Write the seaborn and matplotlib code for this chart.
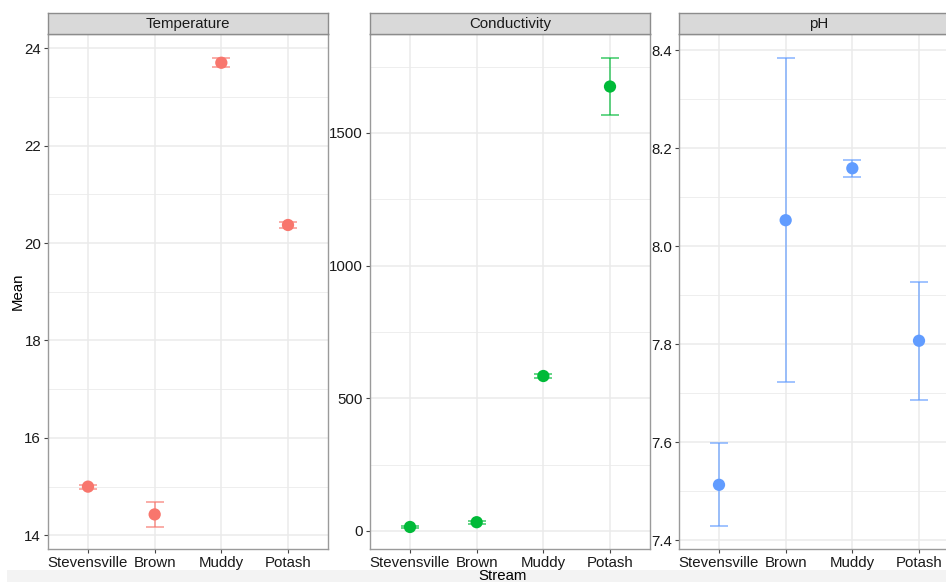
import numpy as np
import pandas as pd
import matplotlib
matplotlib.use("Agg")
import matplotlib.pyplot as plt
from matplotlib.patches import Rectangle
from matplotlib.ticker import MultipleLocator, FormatStrFormatter
import seaborn as sns

# Stream summary data: mean and standard error per variable
streams = ["Stevensville", "Brown", "Muddy", "Potash"]
variables = ["Temperature", "Conductivity", "pH"]

temp_mean = [15.00, 14.43, 23.70, 20.37]
temp_se = [0.04, 0.26, 0.09, 0.06]

cond_mean = [15, 33, 584, 1675]
cond_se = [4, 5, 6, 107]

ph_mean = [7.513, 8.053, 8.159, 7.807]
ph_se = [0.085, 0.331, 0.017, 0.120]

df = pd.DataFrame({
    "Stream": streams * 3,
    "Variable": np.repeat(variables, len(streams)),
    "Mean": temp_mean + cond_mean + ph_mean,
    "SE": temp_se + cond_se + ph_se,
})

colors = {"Temperature": "#F8766D", "Conductivity": "#00BA38", "pH": "#619CFF"}
ylims = {"Temperature": (13.72, 24.29), "Conductivity": (-68, 1873), "pH": (7.382, 8.433)}
major = {"Temperature": 2, "Conductivity": 500, "pH": 0.2}
fmt = {"Temperature": "%d", "Conductivity": "%d", "pH": "%.1f"}

sns.set_theme(style="white")
plt.rcParams["font.family"] = ["Liberation Sans", "DejaVu Sans"]

W, H = 946, 582
fig = plt.figure(figsize=(W / 100, H / 100), dpi=100)
fig.patch.set_facecolor("white")

# faint band along the bottom edge
fig.patches.append(Rectangle((7 / W, 0), 1, 12 / H, transform=fig.transFigure,
                             facecolor="#f3f3f3", edgecolor="none", zorder=0))

panel_left = [48, 370, 679]
panel_w = 280
top, bottom = 34, 549
strip_top = 13
fs = 10.8

grid_col = "#EBEBEB"
border_col = "#9a9a9a"

for var, x0 in zip(variables, panel_left):
    ax = fig.add_axes([x0 / W, 1 - bottom / H, panel_w / W, (bottom - top) / H])
    sub = df[df["Variable"] == var]
    col = colors[var]

    ax.errorbar(sub["Stream"], sub["Mean"], yerr=sub["SE"], fmt="none",
                ecolor=col, alpha=0.65, elinewidth=1.3, capsize=6.5, capthick=1.3,
                zorder=2)
    sns.scatterplot(data=sub, x="Stream", y="Mean", color=col, s=78,
                    edgecolor="none", ax=ax, zorder=3, legend=False)

    ax.set_xlim(-0.6, 3.6)
    ax.set_ylim(*ylims[var])
    ax.yaxis.set_major_locator(MultipleLocator(major[var]))
    ax.yaxis.set_minor_locator(MultipleLocator(major[var] / 2))
    ax.yaxis.set_major_formatter(FormatStrFormatter(fmt[var]))

    ax.grid(True, which="major", color=grid_col, linewidth=1.1, zorder=0)
    ax.grid(True, which="minor", axis="y", color=grid_col, linewidth=0.6, zorder=0)
    ax.set_axisbelow(True)

    for sp in ax.spines.values():
        sp.set_visible(True)
        sp.set_color(border_col)
        sp.set_linewidth(1.0)

    ax.tick_params(axis="both", which="major", length=3, width=0.8, color="#444444",
                   labelsize=fs, labelcolor="#1a1a1a", pad=2, bottom=True, left=True)
    ax.tick_params(axis="y", which="minor", length=0)
    ax.set_xlabel("")
    ax.set_ylabel("")

    # facet strip
    sax = fig.add_axes([x0 / W, 1 - top / H, panel_w / W, (top - strip_top) / H])
    sax.set_facecolor("#D9D9D9")
    sax.set_xticks([])
    sax.set_yticks([])
    for sp in sax.spines.values():
        sp.set_color("#8c8c8c")
        sp.set_linewidth(1.0)
    sax.text(0.5, 0.47, var, ha="center", va="center", fontsize=fs,
             color="#1a1a1a", transform=sax.transAxes)

fig.text(18 / W, 1 - 291 / H, "Mean", rotation=90, ha="center", va="center",
         fontsize=fs, color="#000000")
fig.text(503 / W, 1 - 576 / H, "Stream", ha="center", va="center",
         fontsize=fs, color="#000000")

fig.savefig("out.png", dpi=100)
